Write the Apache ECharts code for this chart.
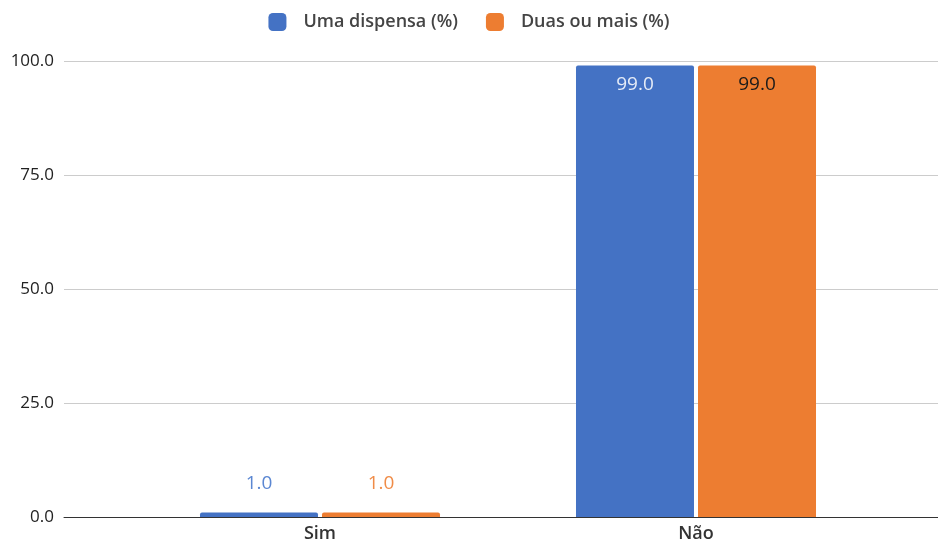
<!DOCTYPE html>
<html><head><meta charset="utf-8">
<script src="https://cdn.jsdelivr.net/npm/echarts@6/dist/echarts.min.js"></script>
<style>html,body{margin:0;padding:0;background:#fff}#c{width:938px;height:543px}</style>
</head><body><div id="c"></div>
<script>
const categories = ['Sim', 'Não'];
const seriesNames = ['Uma dispensa (%)', 'Duas ou mais (%)'];
const umaDispensa = [1.0, 99.0];
const duasOuMais = [1.0, 99.0];
const yTicks = [0, 25, 50, 75, 100];

const FONT = 'Open Sans';
const blue = '#4472C4', orange = '#ED7D31';

function items(vals, color, insideColor) {
  return vals.map(v => ({
    value: v,
    label: v > 50
      ? { show: true, position: 'insideTop', distance: 10, color: insideColor, fontSize: 19, fontFamily: FONT, formatter: p => p.value.toFixed(1) }
      : { show: true, position: 'top', distance: 19, color: color, fontSize: 19, fontFamily: FONT, formatter: p => p.value.toFixed(1) }
  }));
}

const chart = echarts.init(document.getElementById('c'), null, { renderer: 'canvas' });
chart.setOption({
  animation: false,
  backgroundColor: '#fff',
  legend: {
    top: 8, left: 'center', itemWidth: 18, itemHeight: 18, itemGap: 28,
    icon: 'roundRect',
    textStyle: { fontFamily: FONT, fontSize: 18, fontWeight: 600, color: '#444', padding: [0, 0, 0, 12] },
    data: seriesNames
  },
  grid: [
    { left: 64, right: 0, top: 61, bottom: 26, containLabel: false },
    { left: 132, right: 54, top: 61, bottom: 26, containLabel: false }
  ],
  xAxis: [
    { gridIndex: 0, type: 'category', data: categories,
      axisLine: { show: true, lineStyle: { color: '#333', width: 1 } },
      axisTick: { show: false }, axisLabel: { show: false }, splitLine: { show: false } },
    { gridIndex: 1, type: 'category', data: categories,
      axisLine: { show: false }, axisTick: { show: false },
      axisLabel: { show: true, margin: 8, fontFamily: FONT, fontSize: 18, fontWeight: 600, color: '#333' } }
  ],
  yAxis: [
    { gridIndex: 0, type: 'value', min: yTicks[0], max: yTicks[yTicks.length - 1], interval: 25,
      axisLine: { show: false }, axisTick: { show: false },
      axisLabel: { margin: 10, fontFamily: FONT, fontSize: 17, color: '#222', formatter: v => v.toFixed(1) },
      splitLine: { show: true, lineStyle: { color: '#cccccc', width: 1 } } },
    { gridIndex: 1, type: 'value', min: 0, max: 100, show: false }
  ],
  series: [
    { name: seriesNames[0], type: 'bar', xAxisIndex: 1, yAxisIndex: 1,
      barWidth: 118, barGap: '3.4%', itemStyle: { color: blue, borderRadius: [2, 2, 0, 0] },
      data: items(umaDispensa, '#5b87d2', '#e6ecf7') },
    { name: seriesNames[1], type: 'bar', xAxisIndex: 1, yAxisIndex: 1,
      barWidth: 118, barGap: '3.4%', itemStyle: { color: orange, borderRadius: [2, 2, 0, 0] },
      data: items(duasOuMais, '#f08c48', '#1a1a1a') }
  ]
});
</script></body></html>
